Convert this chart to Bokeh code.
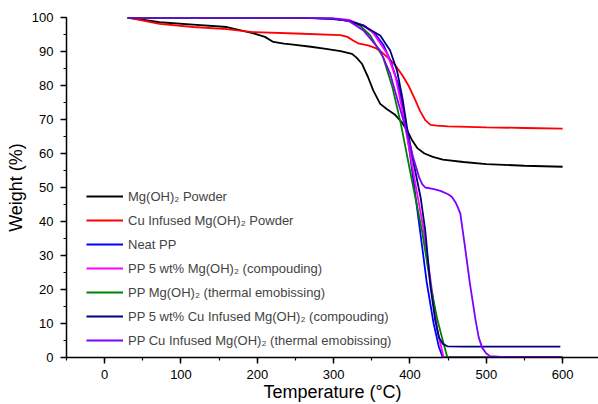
from bokeh.plotting import figure
from bokeh.models import Range1d, SingleIntervalTicker, Legend, LegendItem
from bokeh.embed import file_html
from bokeh.resources import INLINE

# ---- data ----
mgoh_T = [30, 72, 116, 160, 194, 210, 221, 235, 247, 270, 290, 309, 324, 330, 337, 345, 352, 361, 370, 380, 390, 397, 403, 410, 419, 430, 443, 470, 500, 550, 600]
mgoh_W = [100, 98.6, 97.9, 97.2, 95.4, 94.3, 92.8, 92.3, 92.0, 91.4, 90.8, 90.1, 89.3, 88.2, 86.4, 82.5, 78.5, 74.6, 73.0, 71.5, 69.0, 66.5, 63.8, 61.5, 60.0, 59.0, 58.2, 57.5, 56.9, 56.4, 56.1]

cu_T = [30, 72, 116, 160, 194, 250, 309, 318, 325, 332, 345, 355, 363, 372, 381, 390, 398, 406, 413, 420, 427, 435, 450, 500, 550, 600]
cu_W = [100, 98.1, 97.2, 96.6, 95.7, 95.3, 94.8, 94.3, 93.3, 92.4, 91.8, 91.0, 89.8, 88.0, 85.9, 83.0, 80.0, 76.2, 72.6, 69.8, 68.4, 68.2, 68.0, 67.7, 67.5, 67.3]

pp_T = [30, 250, 300, 320, 340, 355, 365, 375, 385, 394, 404, 414, 422, 431, 438, 443, 450, 600]
pp_W = [100, 100, 99.7, 99.0, 97.6, 95.0, 92.0, 87.0, 80.0, 70.0, 53.0, 36.0, 22.0, 10.0, 3.0, 0, 0, 0]

ppmg_T = [30, 250, 300, 320, 340, 352, 370, 381, 390, 404, 418, 428, 436, 444, 450, 600]
ppmg_W = [100, 100, 99.8, 99.3, 97.5, 95.4, 89.4, 82.6, 72.8, 55.0, 37.4, 21.0, 8.0, 0, 0, 0]

ppmg_te_T = [30, 250, 300, 320, 335, 348, 365, 377, 388, 400, 416, 428, 436, 443, 449, 500, 600]
ppmg_te_W = [100, 100, 99.7, 99.0, 97.5, 94.7, 88.2, 79.5, 68.8, 55.0, 37.0, 20.0, 11.0, 5.0, 0, 0, 0]

ppcu_T = [30, 250, 296, 320, 339, 361, 374, 383, 390, 396, 405, 414, 420, 427, 433, 438, 443, 449, 470, 500, 550, 597]
ppcu_W = [100, 100, 99.6, 99.0, 97.6, 94.7, 90.3, 84.4, 76.5, 67.8, 57.0, 47.0, 37.4, 20.6, 11.0, 5.9, 4.0, 3.3, 3.2, 3.2, 3.2, 3.2]

ppcu_te_T = [30, 250, 300, 320, 339, 361, 374, 385, 394, 404, 412, 416, 420, 430, 440, 450, 455, 460, 463, 466, 471.5, 478.5, 486, 490, 494.5, 500, 505, 520, 597]
ppcu_te_W = [100, 100, 99.7, 99.0, 96.2, 90.3, 83.5, 74.7, 67.8, 59.0, 53.0, 51.0, 50.0, 49.6, 49.0, 48.0, 47.2, 45.5, 44.0, 42.3, 33.5, 21.8, 10.9, 6.0, 2.9, 1.2, 0.4, 0.2, 0.2]

labels = [
    "Mg(OH)\u2082 Powder",
    "Cu Infused Mg(OH)\u2082 Powder",
    "Neat PP",
    "PP 5 wt% Mg(OH)\u2082 (compouding)",
    "PP Mg(OH)\u2082 (thermal emobissing)",
    "PP 5 wt% Cu Infused Mg(OH)\u2082 (compouding)",
    "PP Cu Infused Mg(OH)\u2082 (thermal emobissing)",
]
colors = ["#000000", "#ff0000", "#0000ff", "#ff00ff", "#008000", "#000080", "#8000ff"]
series = [(mgoh_T, mgoh_W), (cu_T, cu_W), (pp_T, pp_W), (ppmg_T, ppmg_W),
          (ppmg_te_T, ppmg_te_W), (ppcu_T, ppcu_W), (ppcu_te_T, ppcu_te_W)]

FONT = "Liberation Sans"

p = figure(width=598, height=404, output_backend="svg", toolbar_location=None,
           x_range=Range1d(-50, 647), y_range=Range1d(0, 100),
           min_border_left=66, min_border_right=0, min_border_top=17, min_border_bottom=47)
p.outline_line_color = None
p.xgrid.visible = False
p.ygrid.visible = False
p.background_fill_color = "white"

items = []
for (t, w), c, lab in zip(series, colors, labels):
    r = p.line(t, w, line_color=c, line_width=1.8)
    items.append(LegendItem(label=lab, renderers=[r]))

legend = Legend(items=items, location=(20, 7), padding=0, margin=0, spacing=4,
                label_height=20, glyph_height=20, glyph_width=37, label_standoff=5,
                label_text_font=FONT, label_text_font_size="13px",
                border_line_color=None, background_fill_alpha=0)
p.add_layout(legend)

for ax in (p.xaxis[0], p.yaxis[0]):
    ax.axis_line_width = 1.5
    ax.axis_line_color = "black"
    ax.major_tick_line_color = "black"
    ax.minor_tick_line_color = "black"
    ax.major_tick_line_width = 1.5
    ax.minor_tick_line_width = 1.2
    ax.major_tick_out = 6
    ax.major_tick_in = 0
    ax.minor_tick_out = 3
    ax.minor_tick_in = 0
    ax.major_label_text_font = FONT
    ax.major_label_text_font_size = "13px"
    ax.major_label_text_color = "black"
    ax.axis_label_text_font = FONT
    ax.axis_label_text_font_size = "18px"
    ax.axis_label_text_font_style = "normal"
    ax.axis_label_text_color = "black"

p.xaxis.ticker = SingleIntervalTicker(interval=100, num_minor_ticks=2)
p.yaxis.ticker = SingleIntervalTicker(interval=10, num_minor_ticks=2)
p.xaxis.axis_label = "Temperature (\u00b0C)"
p.yaxis.axis_label = "Weight (%)"
p.xaxis.major_label_standoff = 6
p.yaxis.major_label_standoff = 7
p.xaxis.axis_label_standoff = 0
p.yaxis.axis_label_standoff = 3

open("out.html", "w").write(file_html(p, INLINE))
